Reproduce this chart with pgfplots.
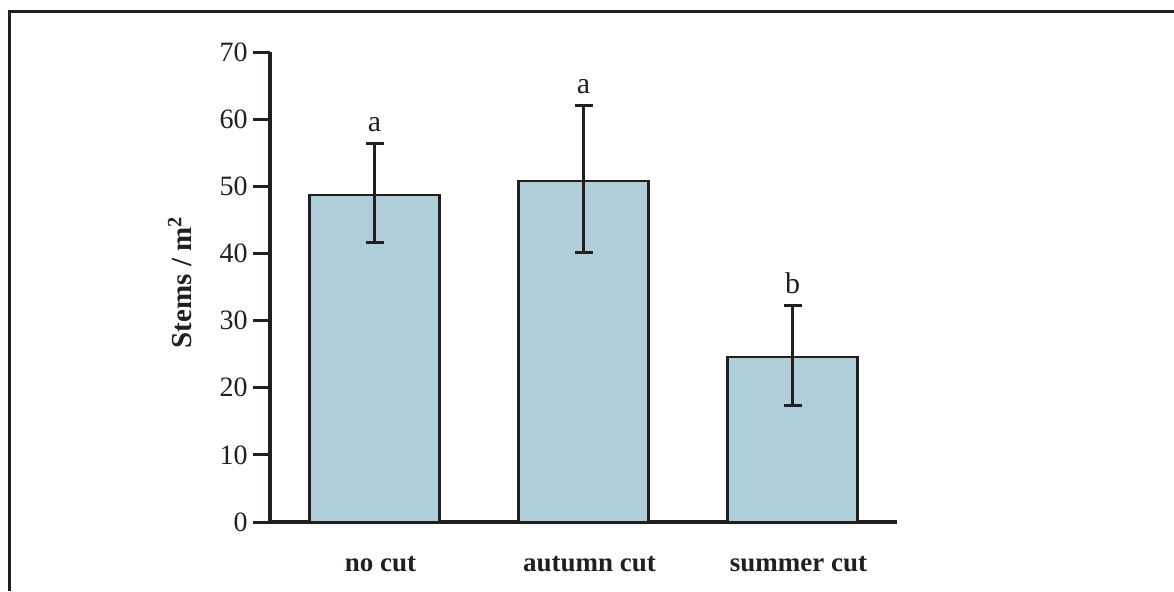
\documentclass[border=0pt]{standalone}
\usepackage{fontspec}
\setmainfont{Liberation Serif}
\usepackage{pgfplots}
\usepackage{pgfplotstable}
\pgfplotsset{compat=1.18}

\definecolor{ink}{RGB}{35,31,32}
\definecolor{barblue}{RGB}{174,207,218}

% stems per m2, with error bar ends
\pgfplotstableread{
x  y     ep    em    lab
0  48.7  7.6   7.0   a
1  50.8  11.2  10.7  a
2  24.6  7.6   7.3   b
}\stems

\begin{document}
\begin{tikzpicture}
\useasboundingbox (0,0) rectangle (587pt,295.5pt);
\draw[ink, line width=1.5pt, line join=miter] (4.5pt,0) -- (4.5pt,290pt) -- (587pt,290pt);
\begin{axis}[
    at={(135pt,34.5pt)}, anchor=south west,
    scale only axis,
    width=313.5pt, height=235pt,
    xmin=-0.5, xmax=2.5,
    ymin=0, ymax=70,
    clip=false,
    axis x line=bottom, axis y line=left,
    axis line style={-, ink, line width=1.75pt},
    xtick={0,1,2},
    xticklabels={no cut, autumn cut, summer cut},
    x tick style={draw=none},
    ytick={0,10,...,70},
    y tick style={ink, line width=1.5pt},
    tick align=outside,
    major tick length=8.5pt,
    /pgf/number format/assume math mode=true,
    yticklabel style={font=\fontsize{14}{16}\selectfont, text=ink, inner sep=0pt, xshift=-2.5pt},
    xticklabel style={font=\bfseries\fontsize{13.5}{16}\selectfont, text=ink, anchor=base, yshift=-16pt, xshift=3pt},
    ylabel={Stems / m\textsuperscript{2}},
    ylabel style={font=\bfseries\fontsize{14.5}{16}\selectfont, text=ink, at={(axis description cs:-0.1435,0.51)}, anchor=center},
]
\addplot[ybar, bar width=65pt, fill=barblue, draw=ink, line width=1.25pt,
    error bars/.cd, y dir=both, y explicit,
    error bar style={ink, line width=1.5pt},
    error mark options={rotate=90, mark size=4.5pt, line width=1.5pt, ink}]
    table[x=x, y=y, y error plus=ep, y error minus=em] {\stems};
\addplot[draw=none, nodes near coords, point meta=explicit symbolic,
    nodes near coords style={font=\fontsize{15}{17}\selectfont, text=ink, anchor=base, inner sep=0pt, yshift=6pt}]
    table[x=x, y expr=\thisrow{y}+\thisrow{ep}, meta=lab] {\stems};
\end{axis}
\end{tikzpicture}
\end{document}
